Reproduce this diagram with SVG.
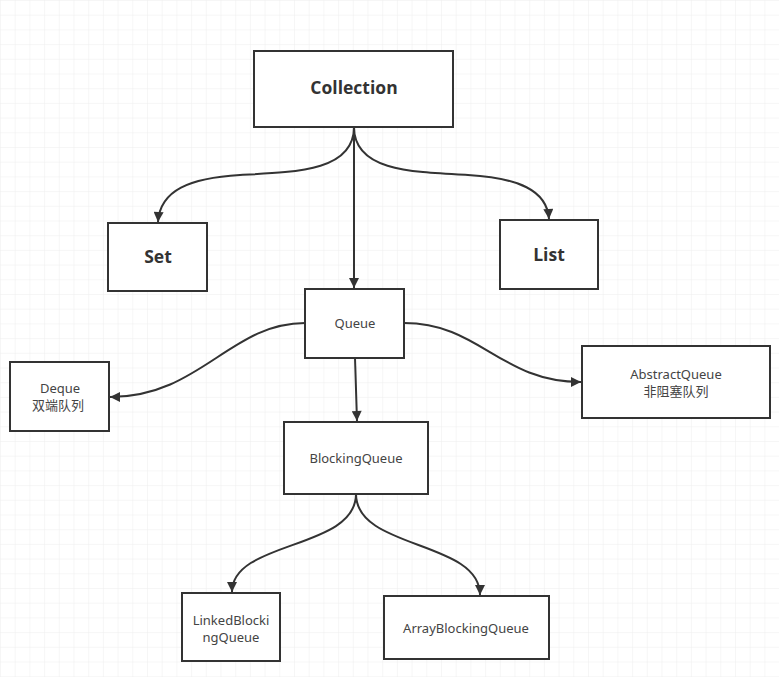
<svg xmlns="http://www.w3.org/2000/svg" width="779" height="677" viewBox="0 0 779 677">
<defs>
<pattern id="grid" width="14.7" height="14.7" patternUnits="userSpaceOnUse">
<path d="M14.7 0 L0 0 L0 14.7" fill="none" stroke="#eeeeee" stroke-width="1"/>
</pattern>
<marker id="arr" viewBox="0 0 10 10" refX="10" refY="5" markerWidth="12" markerHeight="10" markerUnits="userSpaceOnUse" orient="auto">
<path d="M0,0 L10,5 L0,10 Z" fill="#333"/>
</marker>
<style>
.box{fill:#fff;stroke:#333;stroke-width:2}
.big{font-family:"Open Sans","Noto Sans",sans-serif;font-weight:bold;font-size:17.5px;fill:#333;text-anchor:middle}
.sm{font-family:"Noto Sans","Noto Sans CJK SC",sans-serif;font-size:13px;fill:#444;text-anchor:middle}
.edge{fill:none;stroke:#333;stroke-width:2;marker-end:url(#arr)}
</style>
</defs>
<rect width="779" height="677" fill="#fff"/>
<rect width="779" height="677" fill="url(#grid)"/>
<g id="connectors">
<path class="edge" d="M354,127 C354,170 300,172 240,175 C190,178 160,190 158,222"/>
<path class="edge" d="M354,127 C354,170 408,172 468,175 C518,178 547,190 549,219"/>
<path class="edge" d="M354,127 L354,288"/>
<path class="edge" d="M305,323 C230,323 200,397 110,397"/>
<path class="edge" d="M404,323 C480,323 500,382 581,382"/>
<path class="edge" d="M355,358 L357,421"/>
<path class="edge" d="M356,494 C356,550 232,540 232,592"/>
<path class="edge" d="M356,494 C356,550 480,540 480,595"/>
</g>
<g id="collection"><rect class="box" x="254" y="51" width="199" height="76"/><text class="big" x="354" y="94">Collection</text></g>
<g id="set"><rect class="box" x="108" y="223" width="99" height="68"/><text class="big" x="158" y="263">Set</text></g>
<g id="list"><rect class="box" x="500" y="220" width="98" height="69"/><text class="big" x="549" y="261">List</text></g>
<g id="queue"><rect class="box" x="305" y="289" width="99" height="69"/><text class="sm" x="355" y="328">Queue</text></g>
<g id="deque"><rect class="box" x="10" y="362" width="99" height="69"/><text class="sm" x="60" y="393">Deque</text><text class="sm" x="58" y="410">双端队列</text></g>
<g id="abstractqueue"><rect class="box" x="582" y="346" width="188" height="72"/><text class="sm" x="676" y="379">AbstractQueue</text><text class="sm" x="676" y="396">非阻塞队列</text></g>
<g id="blockingqueue"><rect class="box" x="284" y="422" width="144" height="72"/><text class="sm" x="356" y="463">BlockingQueue</text></g>
<g id="linkedblockingqueue"><rect class="box" x="182" y="593" width="98" height="68"/><text class="sm" x="231" y="625">LinkedBlocki</text><text class="sm" x="231" y="642">ngQueue</text></g>
<g id="arrayblockingqueue"><rect class="box" x="384" y="596" width="165" height="63"/><text class="sm" x="466" y="633">ArrayBlockingQueue</text></g>
</svg>
